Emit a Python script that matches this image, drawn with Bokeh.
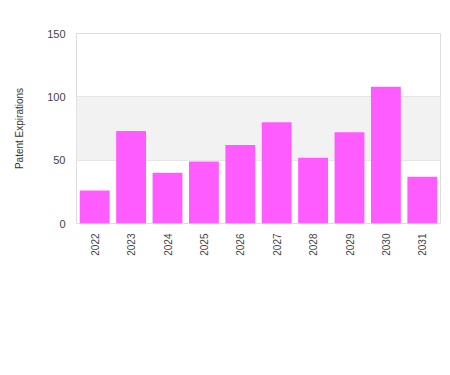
import math
from bokeh.plotting import figure
from bokeh.models import BoxAnnotation, Range1d, FactorRange, FixedTicker
from bokeh.embed import file_html
from bokeh.resources import INLINE

years = ["2022", "2023", "2024", "2025", "2026", "2027", "2028", "2029", "2030", "2031"]
expirations = [26, 73, 40, 49, 62, 80, 52, 72, 108, 37]
y_ticks = [0, 50, 100, 150]

p = figure(x_range=FactorRange(*years, range_padding=0), y_range=Range1d(0, 150),
           width=442, height=358, output_backend="svg", toolbar_location=None,
           min_border_left=76, min_border_right=2, min_border_top=33, min_border_bottom=135)

p.add_layout(BoxAnnotation(bottom=50, top=100, fill_color="#f2f2f2", fill_alpha=1,
                           line_alpha=0, level="underlay"))

p.vbar(x=years, top=expirations, width=0.82, fill_color="#ff5cff", line_color=None)

p.outline_line_color = "#dddddd"
p.outline_line_width = 1
p.xgrid.grid_line_color = None
p.ygrid.grid_line_color = "#e2e2e2"
p.ygrid.ticker = FixedTicker(ticks=y_ticks)
p.yaxis.ticker = FixedTicker(ticks=y_ticks)

p.yaxis.axis_line_color = None
p.yaxis.major_tick_line_color = None
p.yaxis.minor_tick_line_color = None
p.yaxis.major_label_text_font = "Liberation Sans"
p.yaxis.major_label_text_font_size = "11px"
p.yaxis.major_label_text_color = "#444444"
p.yaxis.axis_label = "Patent Expirations"
p.yaxis.axis_label_text_font = "Liberation Sans"
p.yaxis.axis_label_text_font_size = "10px"
p.yaxis.axis_label_text_font_style = "normal"
p.yaxis.axis_label_text_color = "#333333"
p.yaxis.axis_label_standoff = 19

p.xaxis.axis_line_color = None
p.xaxis.major_tick_line_color = None
p.xaxis.minor_tick_line_color = None
p.xaxis.major_label_orientation = math.pi / 2
p.xaxis.major_label_text_font = "Liberation Sans"
p.xaxis.major_label_text_font_size = "10px"
p.xaxis.major_label_text_color = "#444444"
p.xaxis.major_label_standoff = 4

p.background_fill_color = "white"
p.border_fill_color = "white"

open("out.html", "w").write(file_html(p, INLINE))
